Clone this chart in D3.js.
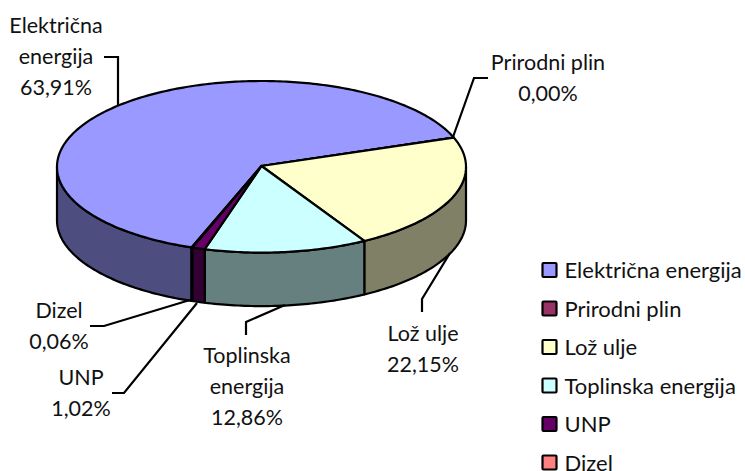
<!DOCTYPE html>
<html>
<head>
<meta charset="utf-8">
<script src="https://cdn.jsdelivr.net/npm/d3@7"></script>
<style>
body { margin: 0; background: #fff; overflow: hidden; }
text { font-family: Lato, "Open Sans", sans-serif; font-size: 21.5px; fill: #111; }
text.legend-label { font-size: 22px; }
</style>
</head>
<body>
<div id="chart"></div>
<script>
var categories = ["Električna energija", "Prirodni plin", "Lož ulje", "Toplinska energija", "UNP", "Dizel"];
var values = [63.91, 0.00, 22.15, 12.86, 1.02, 0.06];
var colors = ["#9999FF", "#993366", "#FFFFCC", "#CCFFFF", "#660066", "#FF8080"];
var sideColors = ["#4D4D80", "#4D1A33", "#808066", "#668080", "#330033", "#804040"];

var width = 745, height = 471;
var cx = 261.5, cy = 166.8, rx = 204.5, ry = 85.8, depth = 53.5;
var apexY = 166;
var startDeg = -160;

// callouts: text lines and leader polyline, one per slice
var callouts = [
	{ lines: ["Električna", "energija", "63,91%"], x: 56, y: 33, leader: [[104, 57], [118, 57], [118, 105]] },
	{ lines: ["Prirodni plin", "0,00%"], x: 548, y: 70, leader: [[488, 78], [474, 78], [453, 137]] },
	{ lines: ["Lož ulje", "22,15%"], x: 423, y: 341, leader: [[422, 312], [422, 299], [450, 253]] },
	{ lines: ["Toplinska", "energija", "12,86%"], x: 247, y: 363, leader: [[246, 335], [246, 322], [285, 305]] },
	{ lines: ["UNP", "1,02%"], x: 81, y: 385, leader: [[112, 393], [124, 393], [197, 303]] },
	{ lines: ["Dizel", "0,06%"], x: 59, y: 318, leader: [[90, 326], [104, 326], [190, 300]] }
];

var svg = d3.select("#chart").append("svg")
	.attr("width", width)
	.attr("height", height);

var x = d3.scaleLinear().domain([-1, 1]).range([cx - rx, cx + rx]);
var y = d3.scaleLinear().domain([-1, 1]).range([cy - ry, cy + ry]);

var start = startDeg * Math.PI / 180;
var pie = d3.pie().sort(null).startAngle(start).endAngle(start + 2 * Math.PI);
var slices = pie(values);

var line = d3.line();
function rim(a, drop) {
	return [x(Math.sin(a)), y(-Math.cos(a)) + drop];
}
function sweep(a0, a1, drop) {
	var n = Math.max(2, Math.ceil(Math.abs(a1 - a0) * 60));
	return d3.range(n + 1).map(function(i) { return rim(a0 + (a1 - a0) * i / n, drop); });
}

// walls, only the front half of the ellipse shows (angles 90 to 270 deg)
var frontA = Math.PI / 2, frontB = 3 * Math.PI / 2;
slices.forEach(function(d, i) {
	// angles may be below zero, move them into the same turn as the front half
	[0, 2 * Math.PI].forEach(function(shift) {
		var a0 = Math.max(d.startAngle + shift, frontA);
		var a1 = Math.min(d.endAngle + shift, frontB);
		if (a1 <= a0) return;
		var pts = sweep(a0, a1, 0).concat(sweep(a1, a0, depth));
		svg.append("path")
			.attr("d", line(pts) + "Z")
			.attr("fill", sideColors[i])
			.attr("stroke", "#000")
			.attr("stroke-width", 2.2)
			.attr("stroke-linejoin", "round");
	});
});

// top face
svg.selectAll("path.top")
	.data(slices)
	.enter()
	.append("path")
	.attr("class", "top")
	.attr("d", function(d) {
		var pts = [[x(0), apexY]].concat(sweep(d.startAngle, d.endAngle, 0));
		return line(pts) + "Z";
	})
	.attr("fill", function(d, i) { return colors[i]; })
	.attr("stroke", "#000")
	.attr("stroke-width", 2.2)
	.attr("stroke-linejoin", "round");

// leaders and labels
var lineHeight = 31;
callouts.forEach(function(c) {
	svg.append("path")
		.attr("d", line(c.leader))
		.attr("fill", "none")
		.attr("stroke", "#000")
		.attr("stroke-width", 2.2);
	c.lines.forEach(function(t, i) {
		svg.append("text")
			.attr("x", c.x)
			.attr("y", c.y + i * lineHeight)
			.attr("text-anchor", "middle")
			.text(t);
	});
});

// legend
var legendY = d3.scalePoint().domain(categories).range([270, 462.5]);
var legend = svg.selectAll("g.legend")
	.data(categories)
	.enter()
	.append("g")
	.attr("class", "legend")
	.attr("transform", function(d) { return "translate(0," + legendY(d) + ")"; });

legend.append("rect")
	.attr("x", 542.5)
	.attr("y", -7)
	.attr("width", 14)
	.attr("height", 14)
	.attr("rx", 1)
	.attr("fill", function(d, i) { return colors[i]; })
	.attr("stroke", "#000")
	.attr("stroke-width", 2.2);

legend.append("text")
	.attr("class", "legend-label")
	.attr("x", 564.5)
	.attr("y", 8)
	.text(function(d) { return d; });
</script>
</body>
</html>
